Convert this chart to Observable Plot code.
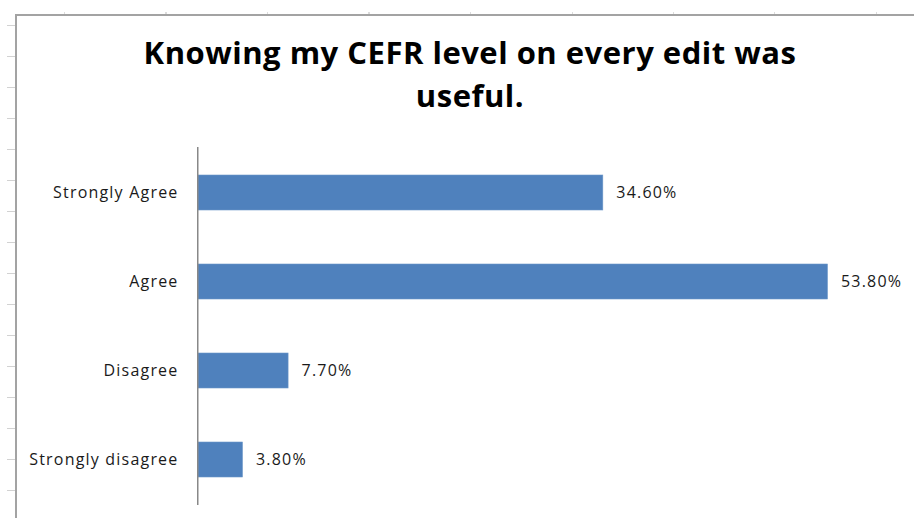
<!DOCTYPE html>
<html>
<head>
<meta charset="utf-8">
<script src="https://cdn.jsdelivr.net/npm/d3@7"></script>
<script src="https://cdn.jsdelivr.net/npm/@observablehq/plot@0.6"></script>
<style>
  html, body { margin: 0; padding: 0; background: #fff; }
  #wrap { position: relative; width: 914px; height: 518px; overflow: hidden; background: #fff; }
  #rowticks { position: absolute; left: 7px; top: 25px; width: 9px; height: 480px;
    background: repeating-linear-gradient(to bottom, #d2d2d2 0 1px, transparent 1px 31px); }
  #colticks { position: absolute; left: 64px; top: 12px; width: 850px; height: 3px;
    background: repeating-linear-gradient(to right, #dcdcdc 0 1px, transparent 1px 101.5px); }
  #frame { position: absolute; left: 15px; top: 14px; width: 1000px; height: 600px;
    border-left: 2px solid #a3a3a3; border-top: 2px solid #a3a3a3; }
  #title { position: absolute; left: 20px; top: 31px; width: 900px; text-align: center;
    font-family: "Open Sans", sans-serif; font-weight: 700; font-size: 31px; letter-spacing: 0.5px;
    line-height: 43px; color: #000; }
  #chart { position: absolute; left: 0; top: 130px; }
</style>
</head>
<body>
<div id="wrap">
  <div id="rowticks"></div>
  <div id="colticks"></div>
  <div id="frame"></div>
  <div id="title">Knowing my CEFR level on every edit was<br>useful.</div>
  <div id="chart"></div>
</div>
<script>
const categories = ["Strongly Agree", "Agree", "Disagree", "Strongly disagree"];
const percents = [34.6, 53.8, 7.7, 3.8];
const xMax = 60;

const data = categories.map((c, i) => ({category: c, value: percents[i]}));

const chart = Plot.plot({
  width: 914,
  height: 388,
  marginLeft: 198,
  marginRight: 14,
  marginTop: 17,
  marginBottom: 13,
  style: {fontFamily: "Open Sans, sans-serif", fontSize: "16px", color: "#1a1a1a", background: "transparent", letterSpacing: "1.2px"},
  x: {domain: [0, xMax], axis: null},
  y: {domain: categories, paddingInner: 0.61, paddingOuter: 0.305, label: null},
  marks: [
    Plot.barX(data, {x: "value", y: "category", fill: "#4f81bd", stroke: "#6d97c9", strokeWidth: 0.6}),
    Plot.ruleX([0], {stroke: "#888888", strokeWidth: 1.5, dx: -0.75}),
    Plot.axisY({tickSize: 0, tickPadding: 20, fontSize: 16, fill: "#1a1a1a"}),
    Plot.text(data, {x: "value", y: "category", text: d => d.value.toFixed(2) + "%", dx: 13, textAnchor: "start", fontSize: 16, fill: "#1a1a1a"})
  ]
});
document.getElementById("chart").appendChild(chart);
</script>
</body>
</html>
